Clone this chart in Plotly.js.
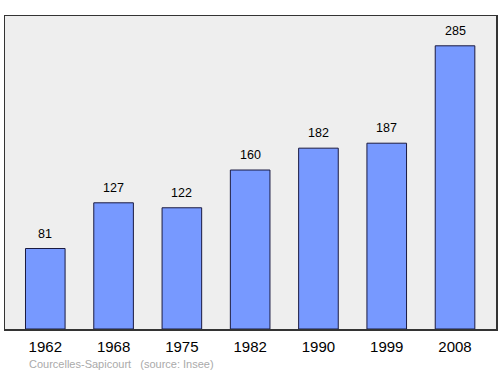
<!DOCTYPE html>
<html>
<head>
<script src="https://cdn.plot.ly/plotly-3.0.1.min.js"></script>
<style>body{margin:0;padding:0;background:#fff}#chart{width:500px;height:374px}</style>
</head>
<body>
<div id="chart"></div>
<script>
var years = ["1962", "1968", "1975", "1982", "1990", "1999", "2008"];
var population = [81, 127, 122, 160, 182, 187, 285];
var footerText = "Courcelles-Sapicourt\u00a0\u00a0\u00a0(source: Insee)";

var idx = years.map(function(_, i){ return i; });

var trace = {
  type: 'bar',
  x: idx,
  y: population,
  width: 0.58,
  marker: {color: '#7799ff', line: {color: '#1a1a40', width: 1}},
  hoverinfo: 'none'
};

var annotations = idx.map(function(i){
  return {x: i, y: population[i], xref: 'x', yref: 'y', text: String(population[i]),
    showarrow: false, yanchor: 'bottom', yshift: 6,
    font: {family: 'Liberation Sans, Arial, sans-serif', size: 12.5, color: '#000'}};
});
annotations.push({xref: 'paper', yref: 'paper', x: 22/491, y: -35/313, xanchor: 'left', yanchor: 'middle',
  text: footerText, showarrow: false,
  font: {family: 'Liberation Sans, Arial, sans-serif', size: 11, color: '#aaaaaa'}});

var layout = {
  width: 500, height: 374,
  margin: {l: 5, r: 4, t: 16, b: 45, pad: 0},
  paper_bgcolor: '#ffffff',
  plot_bgcolor: '#eeeeee',
  showlegend: false,
  xaxis: {range: [-0.59, 6.6], tickvals: idx, ticktext: years, showgrid: false, zeroline: false,
    showline: true, mirror: true, linecolor: '#333333', linewidth: 1.5, ticks: '', fixedrange: true,
    ticklabelstandoff: 3,
    tickfont: {family: 'Liberation Sans, Arial, sans-serif', size: 15, color: '#000'}},
  yaxis: {range: [0, 315], showgrid: false, zeroline: false, showticklabels: false,
    showline: true, mirror: true, linecolor: '#333333', linewidth: 1.5, ticks: '', fixedrange: true},
  annotations: annotations
};

Plotly.newPlot('chart', [trace], layout, {staticPlot: true, displayModeBar: false});
</script>
</body>
</html>
